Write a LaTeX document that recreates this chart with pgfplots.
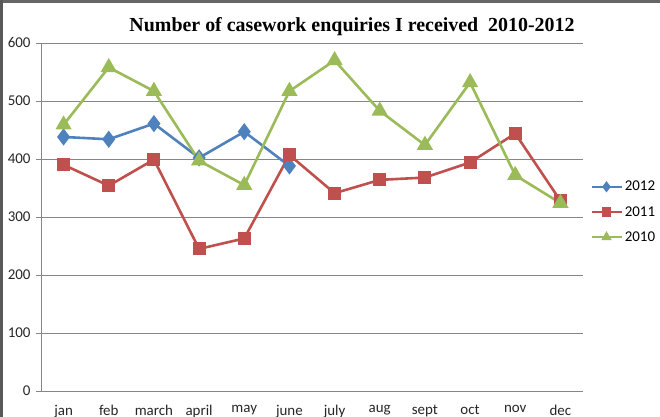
\documentclass[border=0pt]{standalone}
\usepackage{pgfplots}
\pgfplotsset{compat=1.18}
\usepackage{fontspec}
\setmainfont{Carlito}
\newfontfamily\titlefont{Liberation Serif}
\definecolor{s2012}{HTML}{4F81BD}
\definecolor{s2011}{HTML}{C0504D}
\definecolor{s2010}{HTML}{9BBB59}
\definecolor{axgray}{HTML}{868686}

\begin{document}
\begin{tikzpicture}[x=1bp,y=1bp]
  \begin{axis}[
      scale only axis,
      width=542bp, height=348bp,
      at={(0,0)}, anchor=south west,
      xmin=0.5, xmax=12.5,
      ymin=0, ymax=600,
      xtick={1,...,12},
      xticklabels={jan,feb,march,april,may,june,july,aug,sept,oct,nov,dec},
      extra x ticks={0.5,1.5,...,12.5},
      extra x tick labels={},
      extra x tick style={major tick length=5.5bp, tick style={axgray, line width=0.8bp}, tick align=outside, xmajorgrids=false},
      ytick={0,100,...,600},
      major x tick style={draw=none},
      major y tick style={axgray, line width=0.8bp},
      major tick length=5bp,
      tick align=outside,
      ymajorgrids,
      grid style={axgray, line width=0.8bp},
      axis x line*=bottom,
      axis y line*=left,
      axis line style={axgray, line width=0.8bp, -},
      tick label style={font=\fontsize{15}{18}\selectfont, text=black!85},
      yticklabel style={xshift=-2bp},
      xticklabel style={yshift=-6bp},
      /pgf/number format/assume math mode=true,
      legend style={draw=none, fill=none, at={(549bp,179bp)}, anchor=west,
        font=\fontsize{15}{18}\selectfont, row sep=10bp, inner sep=0pt,
        legend cell align=left},
      legend image code/.code={
        \draw[#1, mark=none] (0bp,0bp) -- (30bp,0bp);
        \draw[#1, mark size=3.5bp] plot coordinates {(15bp,0bp)};
      },
      every axis plot/.append style={line width=2.6bp},
    ]
    \addplot[color=s2012, mark=diamond*, mark size=6.5bp, mark options={fill=s2012}]
      coordinates {(1,438) (2,434) (3,461) (4,402) (5,447) (6,388)};
    \addlegendentry{2012}
    \addplot[color=s2011, mark=square*, mark size=5.2bp, mark options={fill=s2011}]
      coordinates {(1,390) (2,354) (3,399) (4,245) (5,263) (6,407)
                   (7,341) (8,364) (9,368) (10,394) (11,444) (12,328)};
    \addlegendentry{2011}
    \addplot[color=s2010, mark=triangle*, mark size=6.8bp, mark options={fill=s2010}]
      coordinates {(1,459) (2,558) (3,517) (4,397) (5,355) (6,517)
                   (7,570) (8,483) (9,424) (10,532) (11,372) (12,324)};
    \addlegendentry{2010}
  \end{axis}
  \node[font=\titlefont\bfseries\fontsize{20}{24}\selectfont] at (311bp,364bp)
    {Number of casework enquiries I received \ 2010-2012};
  \pgfresetboundingbox
  \path[use as bounding box] (-41bp,-26bp) rectangle (619bp,391bp);
  \fill[black!60] (-41bp,388bp) rectangle (619bp,391bp);
  \fill[black!65] (-41bp,-26bp) rectangle (-38bp,391bp);
\end{tikzpicture}
\end{document}
